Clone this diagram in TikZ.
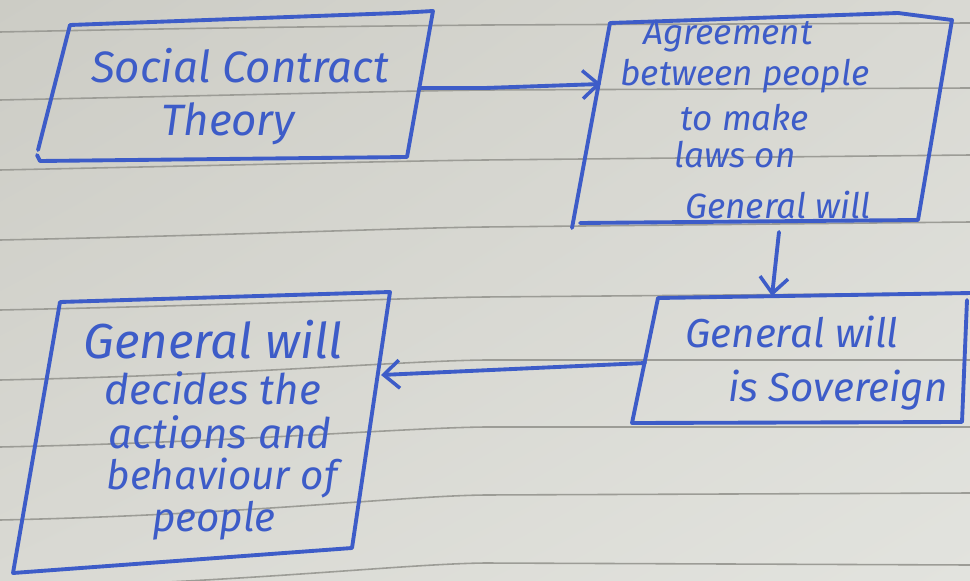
\documentclass[tikz,border=0pt]{standalone}
\usepackage{fontspec}
\setmainfont{Fira Sans}
\usetikzlibrary{arrows.meta,shadings}
\definecolor{paper}{HTML}{D9D9D3}
\definecolor{paperlight}{HTML}{E2E3DE}
\definecolor{paperdark}{HTML}{CCCCC5}
\definecolor{rule}{HTML}{9C9C96}
\definecolor{ink}{HTML}{3D5CC8}
\tikzset{
  pen/.style={draw=ink, line width=2.2pt, line cap=round, line join=round},
  hand/.style={text=ink, inner sep=0pt, font=\itshape},
  ruled/.style={draw=rule, line width=0.9pt},
  flow/.style={pen, -{Straight Barb[length=9pt,width=16pt,line width=2pt]}}
}
\begin{document}
\begin{tikzpicture}[x=0.02cm, y=-0.02cm]
  % paper
  \shade[upper left=paperdark, upper right=paper, lower left=paper, lower right=paperlight]
    (0,0) rectangle (970,581);
  \useasboundingbox (0,0) rectangle (970,581);
  % ruled lines
  \foreach \a/\b/\c in {32/25/23, 100/90/88, 170/160/155, 240/227/222, 310/297/293,
                        380/360/360, 447/427/427, 520/495/493, 588/563/565}
    \draw[ruled] (0,\a) .. controls (240,\a-5) and (400,\b+1) .. (485,\b) -- (970,\c);

  % box: Social Contract Theory
  \coordinate (a1) at (70,25);  \coordinate (a2) at (433,11);
  \coordinate (a3) at (407,157); \coordinate (a4) at (40,161);
  \draw[pen] (a1) -- (398,13) -- (a2) -- (a3) -- (a4) -- (37,155);
  \draw[pen] (a1) -- (38,150);
  \node[hand, font=\itshape\fontsize{25}{25}\selectfont] (t1a) at (240,66) {Social Contract};
  \node[hand, font=\itshape\fontsize{25}{25}\selectfont] (t1b) at (228,124) {Theory};

  % box: Agreement ...
  \coordinate (b1) at (610,23); \coordinate (b2) at (952,20);
  \coordinate (b3) at (918,220); \coordinate (b4) at (575,226);
  \draw[pen] (b1) -- (898,13) -- (b2) -- (b3) -- (580,223);
  \draw[pen] (b1) -- (572,228);
  \node[hand, font=\itshape\fontsize{20}{20}\selectfont] (t2a) at (728,36) {Agreement};
  \node[hand, font=\itshape\fontsize{20}{20}\selectfont] (t2b) at (745,76) {between people};
  \node[hand, font=\itshape\fontsize{20}{20}\selectfont] (t2c) at (745,118) {to make};
  \node[hand, font=\itshape\fontsize{20}{20}\selectfont] (t2d) at (735,155) {laws on};
  \node[hand, font=\itshape\fontsize{20}{20}\selectfont] (t2e) at (778,205) {General will};

  % box: General will is Sovereign
  \coordinate (c1) at (658,298); \coordinate (c2) at (972,293);
  \coordinate (c3) at (962,422); \coordinate (c4) at (632,423);
  \draw[pen] (c1) -- (c2);
  \draw[pen] (c1) -- (c4) -- (c3) -- (967,300);
  \node[hand, font=\itshape\fontsize{23}{23}\selectfont] (t3a) at (792,332) {General will};
  \node[hand, font=\itshape\fontsize{23}{23}\selectfont] (t3b) at (838,390) {is Sovereign};

  % box: General will decides ...
  \coordinate (d1) at (60,302); \coordinate (d2) at (390,292);
  \coordinate (d3) at (352,548); \coordinate (d4) at (13,573);
  \draw[pen] (d1) -- (d2) -- (d3) -- (d4) -- (d1);
  \node[hand, font=\itshape\fontsize{28}{28}\selectfont] (t4a) at (213,340) {General will};
  \node[hand, font=\itshape\fontsize{24}{24}\selectfont] (t4b) at (213,388) {decides the};
  \node[hand, font=\itshape\fontsize{24}{24}\selectfont] (t4c) at (220,432) {actions and};
  \node[hand, font=\itshape\fontsize{23}{23}\selectfont] (t4d) at (222,478) {behaviour of};
  \node[hand, font=\itshape\fontsize{23}{23}\selectfont] (t4e) at (214,521) {people};

  % connectors
  \coordinate (p1) at (420,88);  \coordinate (q1) at (601,84);
  \coordinate (p2) at (779,232); \coordinate (q2) at (772,296);
  \coordinate (p3) at (645,363); \coordinate (q3) at (381,375);
  \draw[flow] (p1) -- (485,88) -- (q1);
  \draw[flow] (p2) -- (q2);
  \draw[flow] (p3) -- (q3);
\end{tikzpicture}
\end{document}
